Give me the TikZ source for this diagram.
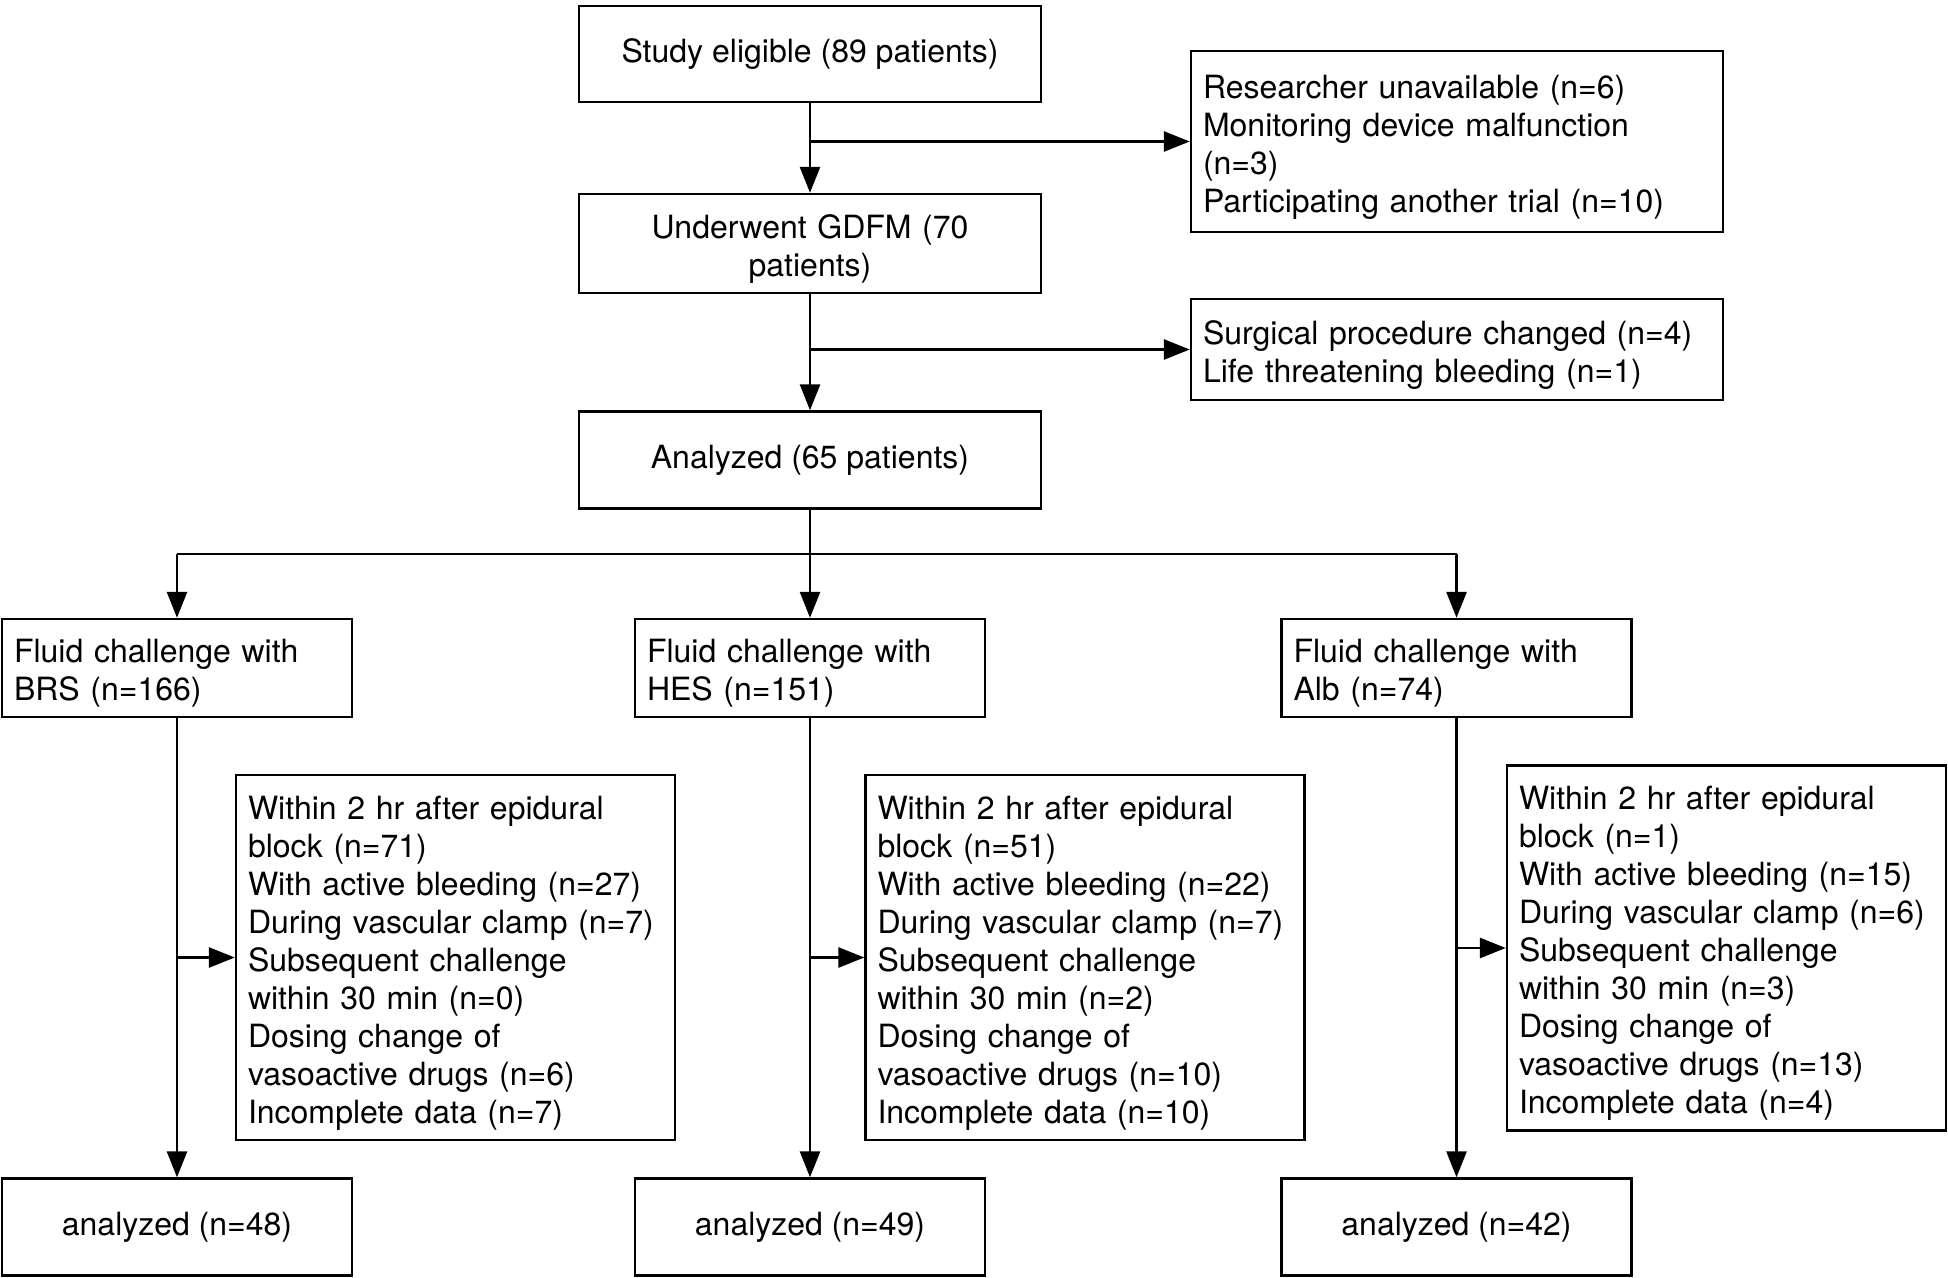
\documentclass[tikz,border=0pt]{standalone}
\usepackage{fontspec}
\setmainfont{TeX Gyre Heros}
\usetikzlibrary{calc,arrows.meta}

\begin{document}
\begin{tikzpicture}[x=0.5pt,y=-0.5pt,
  box/.style={draw,line width=1.2pt,inner xsep=6pt,inner ysep=2pt,font=\fontsize{16}{19}\selectfont},
  lines/.style={box,align=left,execute at begin node={\rule{0pt}{17pt}}},
  flow/.style={line width=1.4pt,-{Triangle[length=13pt,width=10pt]}},
  plain/.style={line width=1.4pt}]
  \useasboundingbox (0,0) rectangle (1948,1278);

  % main column
  \node[box,minimum width=231pt,minimum height=48pt] (study) at (810,54) {Study eligible (89 patients)};
  \node[lines,text width=219pt,align=center,minimum height=49.5pt] (gdfm) at (810,243.5) {Underwent GDFM (70\\patients)};
  \node[box,minimum width=231pt,minimum height=48.5pt] (analyzed) at (810,460) {Analyzed (65 patients)};

  % drop outs before the analysis
  \node[lines,text width=254pt,minimum height=90.5pt] (excl1) at (1457,141.5) {Researcher unavailable (n=6)\\Monitoring device malfunction\\(n=3)\\Participating another trial (n=10)};
  \node[lines,text width=254pt,minimum height=50.5pt] (excl2) at (1457,349.5) {Surgical procedure changed (n=4)\\Life threatening bleeding (n=1)};

  \draw[flow] (study) -- (gdfm);
  \draw[flow] (study.south |- excl1.west) -- (excl1.west);
  \draw[flow] (gdfm) -- (analyzed);
  \draw[flow] (gdfm.south |- excl2.west) -- (excl2.west);

  % the three fluids
  \node[lines,text width=163pt,minimum height=49pt] (brs) at (177,668) {Fluid challenge with\\BRS (n=166)};
  \node[lines,text width=163pt,minimum height=49pt] (hes) at (810,668) {Fluid challenge with\\HES (n=151)};
  \node[lines,text width=163pt,minimum height=49pt] (alb) at (1456.5,668) {Fluid challenge with\\Alb (n=74)};

  % excluded challenges
  \node[lines,text width=207.5pt,minimum height=182.5pt] (brs-x) at (455.5,957.5) {Within 2 hr after epidural\\block (n=71)\\With active bleeding (n=27)\\During vascular clamp (n=7)\\Subsequent challenge\\within 30 min (n=0)\\Dosing change of\\vasoactive drugs (n=6)\\Incomplete data (n=7)};
  \node[lines,text width=207.5pt,minimum height=182.5pt] (hes-x) at (1085,957.5) {Within 2 hr after epidural\\block (n=51)\\With active bleeding (n=22)\\During vascular clamp (n=7)\\Subsequent challenge\\within 30 min (n=2)\\Dosing change of\\vasoactive drugs (n=10)\\Incomplete data (n=10)};
  \node[lines,text width=207.5pt,minimum height=182.5pt] (alb-x) at (1726.5,948) {Within 2 hr after epidural\\block (n=1)\\With active bleeding (n=15)\\During vascular clamp (n=6)\\Subsequent challenge\\within 30 min (n=3)\\Dosing change of\\vasoactive drugs (n=13)\\Incomplete data (n=4)};

  % analyzed challenges
  \node[box,minimum width=175pt,minimum height=48.5pt] (brs-n) at (177,1227) {analyzed (n=48)};
  \node[box,minimum width=175pt,minimum height=48.5pt] (hes-n) at (810,1227) {analyzed (n=49)};
  \node[box,minimum width=175pt,minimum height=48.5pt] (alb-n) at (1456.5,1227) {analyzed (n=42)};

  \coordinate (split) at (810,554);
  \draw[plain] (analyzed) -- (split);
  \draw[plain] (split -| brs.north) -- (split -| alb.north);
  \foreach \arm in {brs,hes,alb}{
    \draw[flow] (split -| \arm.north) -- (\arm.north);
    \draw[flow] (\arm) -- (\arm-n);
    \draw[flow] (\arm.south |- \arm-x.west) -- (\arm-x.west);
  }
\end{tikzpicture}
\end{document}
